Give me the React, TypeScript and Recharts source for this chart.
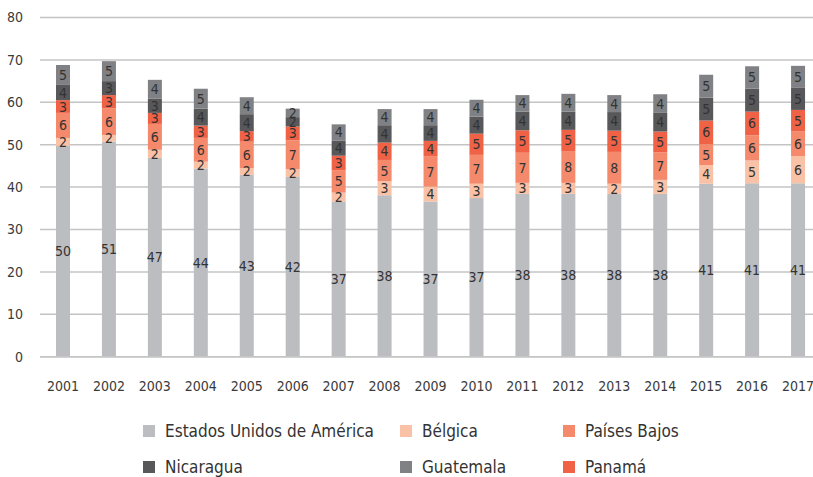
import { BarChart, Bar, XAxis, YAxis, CartesianGrid, LabelList } from 'recharts'

const years = ['2001', '2002', '2003', '2004', '2005', '2006', '2007', '2008', '2009', '2010', '2011', '2012', '2013', '2014', '2015', '2016', '2017']

const eeuu = [49.7, 50.7, 46.9, 44.4, 42.9, 42.4, 36.6, 38.1, 36.6, 37.4, 38.4, 38.4, 38.4, 38.4, 40.8, 40.9, 40.9]
const belgica = [1.9, 1.6, 1.9, 1.6, 1.6, 1.8, 2.1, 3.3, 3.5, 3.4, 2.6, 2.6, 2.4, 3.3, 4.4, 5.4, 6.4]
const paisesBajos = [5.9, 6.3, 6.1, 5.6, 6.2, 6.8, 5.3, 5.0, 7.1, 6.8, 7.1, 7.5, 7.5, 6.5, 4.9, 5.9, 5.8]
const panama = [3.0, 3.1, 2.6, 2.9, 2.5, 3.3, 3.4, 4.1, 3.7, 5.0, 5.3, 5.0, 5.0, 4.9, 5.6, 5.6, 5.1]
const nicaragua = [3.6, 3.3, 3.4, 4.0, 4.0, 2.2, 3.6, 4.1, 3.7, 4.0, 4.4, 4.3, 4.4, 4.4, 5.4, 5.4, 5.2]
const guatemala = [4.7, 4.7, 4.4, 4.7, 4.0, 2.0, 3.8, 3.8, 3.8, 4.0, 3.9, 4.2, 4.0, 4.4, 5.4, 5.3, 5.2]

const yTicks = [0, 10, 20, 30, 40, 50, 60, 70, 80]

const FONT = "'Liberation Sans Narrow', 'DejaVu Sans Condensed', 'Roboto', sans-serif"

// stack order, bottom to top
const series = [
  { key: 'eeuu', label: 'Estados Unidos de América', color: '#bcbdc0', values: eeuu },
  { key: 'belgica', label: 'Bélgica', color: '#f9c1a6', values: belgica },
  { key: 'paisesBajos', label: 'Países Bajos', color: '#f4896b', values: paisesBajos },
  { key: 'panama', label: 'Panamá', color: '#ef6246', values: panama },
  { key: 'nicaragua', label: 'Nicaragua', color: '#58585b', values: nicaragua },
  { key: 'guatemala', label: 'Guatemala', color: '#808184', values: guatemala },
]

// legend layout as in the original: two rows, three columns
const legendRows = [
  ['eeuu', 'belgica', 'paisesBajos'],
  ['nicaragua', 'guatemala', 'panama'],
]
const legendCols = [143, 400, 563]
const legendTops = [431, 467]

const data = years.map((year, i) => {
  const row: { [k: string]: string | number } = { year }
  series.forEach((s) => {
    row[s.key] = s.values[i]
  })
  return row
})

export default function App() {
  return (
    <div style={{ position: 'absolute', left: 0, top: 0, width: 813, height: 477, overflow: 'hidden', fontFamily: FONT }}>
      <BarChart
        width={821}
        height={477}
        data={data}
        margin={{ top: 17.5, right: 0, left: 0, bottom: 90.3 }}
        barSize={14}
      >
        <CartesianGrid vertical={false} stroke="#c4c4c4" strokeWidth={1.5} />
        <XAxis
          dataKey="year"
          axisLine={{ stroke: '#c4c4c4', strokeWidth: 1.5 }}
          tickLine={false}
          tickSize={0}
          tickMargin={24}
          height={30}
          interval={0}
          tick={{ fontSize: 14, fill: '#3a3a3a', fontFamily: FONT }}
        />
        <YAxis
          domain={[0, 80]}
          ticks={yTicks}
          axisLine={false}
          tickLine={false}
          tickSize={0}
          tickMargin={17}
          width={40}
          tick={{ fontSize: 14, fill: '#3a3a3a', fontFamily: FONT }}
        />
        {series.map((s) => (
          <Bar key={s.key} dataKey={s.key} stackId="a" fill={s.color} isAnimationActive={false}>
            <LabelList
              dataKey={s.key}
              position="center"
              formatter={(v: number) => Math.round(v)}
              style={{ fontSize: 14, fill: '#333', fontFamily: FONT }}
            />
          </Bar>
        ))}
      </BarChart>
      {legendRows.map((row, r) =>
        row.map((key, c) => {
          const s = series.find((x) => x.key === key)!
          return (
            <div
              key={key}
              style={{
                position: 'absolute',
                left: legendCols[c],
                top: legendTops[r] - 11,
                height: 22,
                display: 'flex',
                alignItems: 'center',
                fontSize: 17,
                color: '#333',
                whiteSpace: 'nowrap',
              }}
            >
              <span style={{ display: 'inline-block', width: 12, height: 12, background: s.color, marginRight: 10 }} />
              {s.label}
            </div>
          )
        })
      )}
    </div>
  )
}
